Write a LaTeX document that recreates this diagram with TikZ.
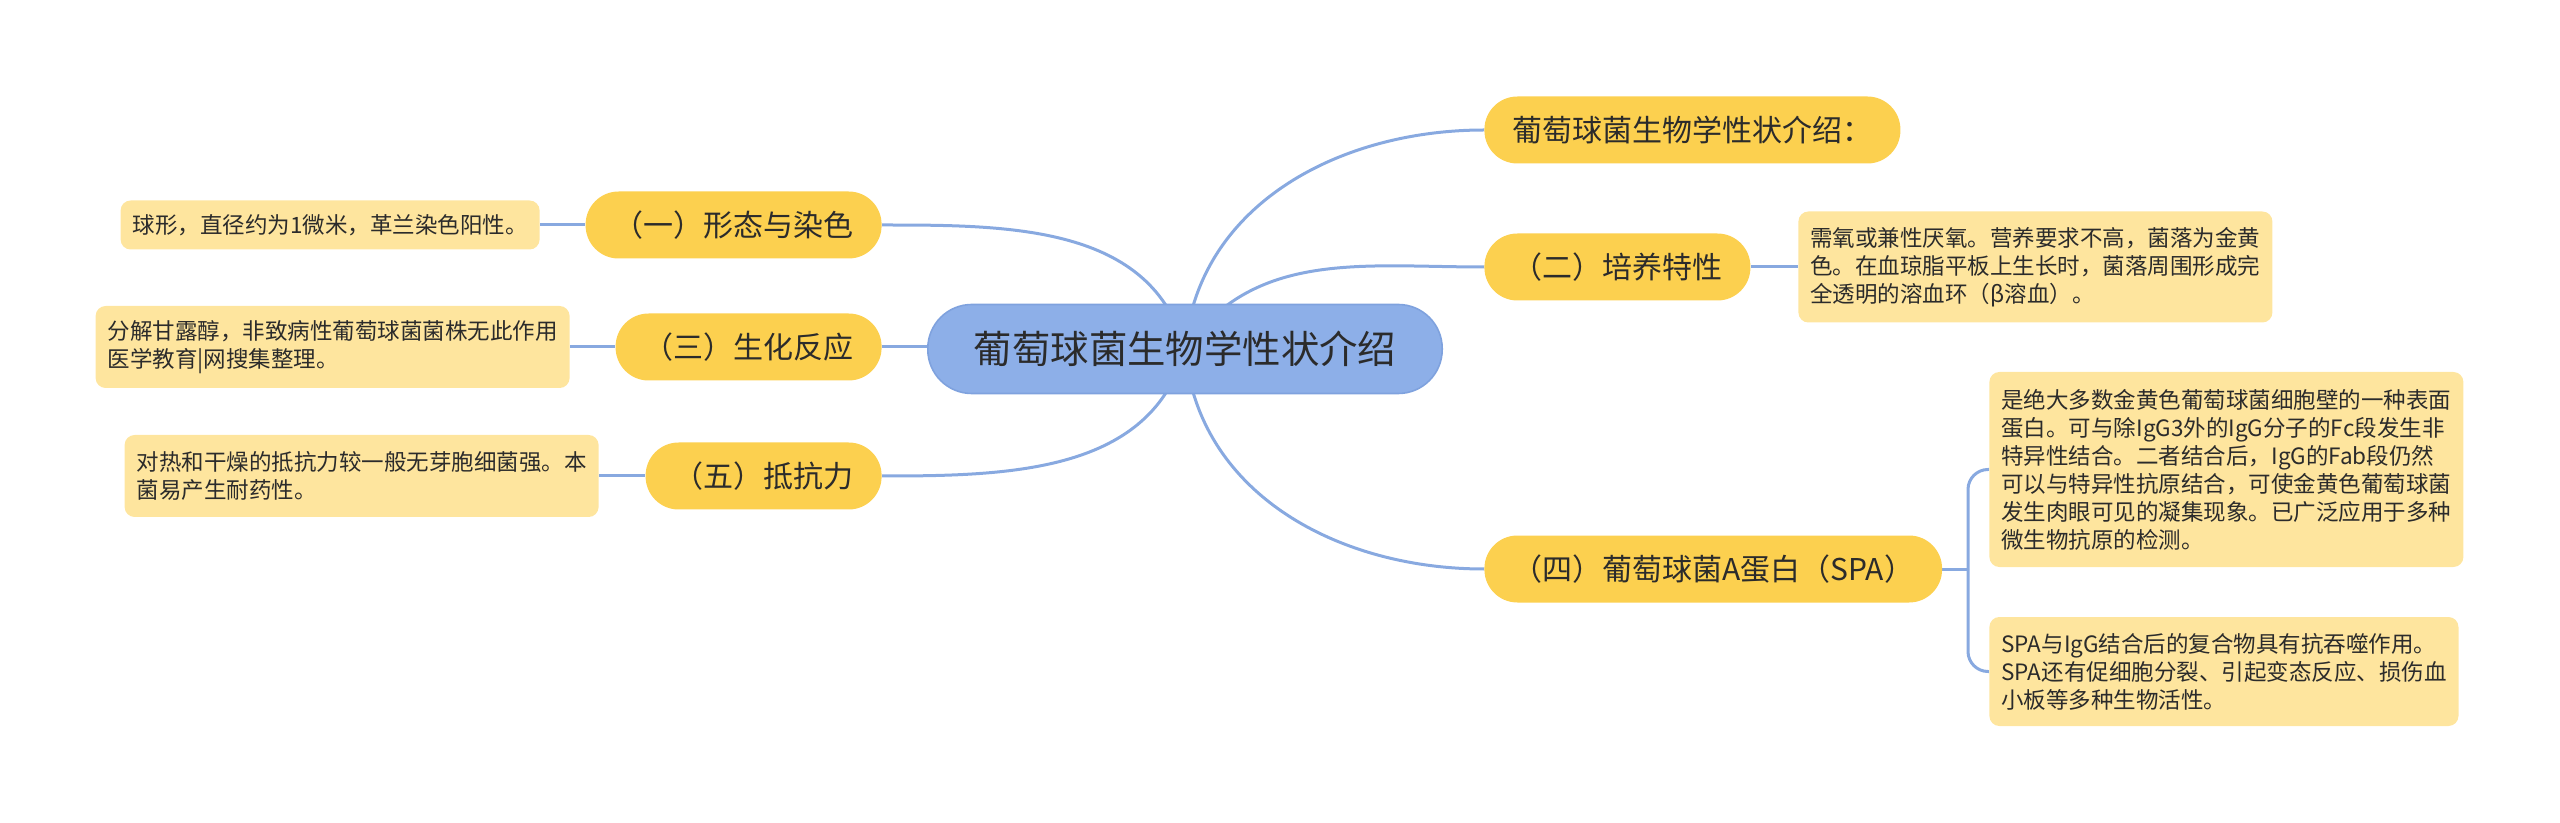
\documentclass[tikz,border=0pt]{standalone}
\usepackage{fontspec}
\setmainfont{Noto Sans CJK SC}
\definecolor{rootfill}{HTML}{8DAFE8}
\definecolor{rootdraw}{HTML}{7FA2DE}
\definecolor{branchfill}{HTML}{FCD04F}
\definecolor{leaffill}{HTML}{FEE59E}
\definecolor{linkc}{HTML}{88A9E0}
\definecolor{txt}{HTML}{2B2B2B}
\pgfdeclarelayer{bg}
\pgfsetlayers{bg,main}
\begin{document}
\begin{tikzpicture}[x=0.5pt,y=-0.5pt,
  rootbox/.style={rounded corners=22pt, fill=rootfill, draw=rootdraw, line width=0.8pt,
    minimum height=44.5pt, inner xsep=23pt, inner ysep=0pt,
    font=\fontsize{19.2}{22}\selectfont, text=txt},
  branchbox/.style={rounded corners=16.5pt, fill=branchfill, minimum height=33.5pt,
    inner xsep=14pt, inner ysep=0pt, font=\fontsize{15}{18}\selectfont, text=txt},
  leafbox/.style={rounded corners=5pt, fill=leaffill, inner xsep=6pt, inner ysep=0pt,
    align=left, font=\fontsize{11.25}{14}\selectfont, text=txt},
  link/.style={draw=linkc, line width=1.5pt}]
\useasboundingbox (0,0) rectangle (2560,823);

% root
\node[rootbox] (root) at (1185,349) {葡萄球菌生物学性状介绍};

% right branches
\node[branchbox, anchor=west] (b1) at (1484,130) {葡萄球菌生物学性状介绍：};
\node[branchbox, anchor=west] (b2) at (1484,267) {（二）培养特性};
\node[branchbox, anchor=west] (b4) at (1484,569) {（四）葡萄球菌A蛋白（SPA）};

% left branches
\node[branchbox, anchor=east] (l1) at (882,225) {（一）形态与染色};
\node[branchbox, anchor=east] (l3) at (882,347) {（三）生化反应};
\node[branchbox, anchor=east] (l5) at (882,476) {（五）抵抗力};

% leaves
\node[leafbox, minimum height=24.5pt, anchor=east] (f1) at (540,225)
  {球形，直径约为1微米，革兰染色阳性。};
\node[leafbox, minimum height=41pt, anchor=east] (f3) at (570,347)
  {分解甘露醇，非致病性葡萄球菌菌株无此作用\\医学教育|网搜集整理。};
\node[leafbox, minimum height=41pt, anchor=east] (f5) at (599,476)
  {对热和干燥的抵抗力较一般无芽胞细菌强。本\\菌易产生耐药性。};
\node[leafbox, minimum height=55.5pt, anchor=west] (f2) at (1798,267)
  {需氧或兼性厌氧。营养要求不高，菌落为金黄\\色。在血琼脂平板上生长时，菌落周围形成完\\全透明的溶血环（β溶血）。};
\node[leafbox, minimum height=97.5pt, anchor=west] (f4a) at (1989,469.5)
  {是绝大多数金黄色葡萄球菌细胞壁的一种表面\\蛋白。可与除IgG3外的IgG分子的Fc段发生非\\特异性结合。二者结合后，IgG的Fab段仍然\\可以与特异性抗原结合，可使金黄色葡萄球菌\\发生肉眼可见的凝集现象。已广泛应用于多种\\微生物抗原的检测。};
\node[leafbox, minimum height=54.5pt, anchor=west] (f4b) at (1989,671.5)
  {SPA与IgG结合后的复合物具有抗吞噬作用。\\SPA还有促细胞分裂、引起变态反应、损伤血\\小板等多种生物活性。};

\coordinate (fork) at (1968,569);

\begin{pgfonlayer}{bg}
\draw[link] (root.center) to[out=85,in=180] (b1.west);
\draw[link] (root.center) to[out=55,in=180] (b2.west);
\draw[link] (root.center) to[out=-85,in=180] (b4.west);
\draw[link] (root.center) to[out=105,in=0] (l1.east);
\draw[link] (l3.east) -- (root.center |- l3.east);
\draw[link] (root.center) to[out=-105,in=0] (l5.east);
\draw[link] (f1.east) -- (l1.west);
\draw[link] (f3.east) -- (l3.west);
\draw[link] (f5.east) -- (l5.west);
\draw[link] (b2.east) -- (f2.west);
\draw[link] (b4.east) -- (fork);
\draw[link, rounded corners=10pt] (fork) |- (f4a.west);
\draw[link, rounded corners=10pt] (fork) |- (f4b.west);
\end{pgfonlayer}
\end{tikzpicture}
\end{document}
